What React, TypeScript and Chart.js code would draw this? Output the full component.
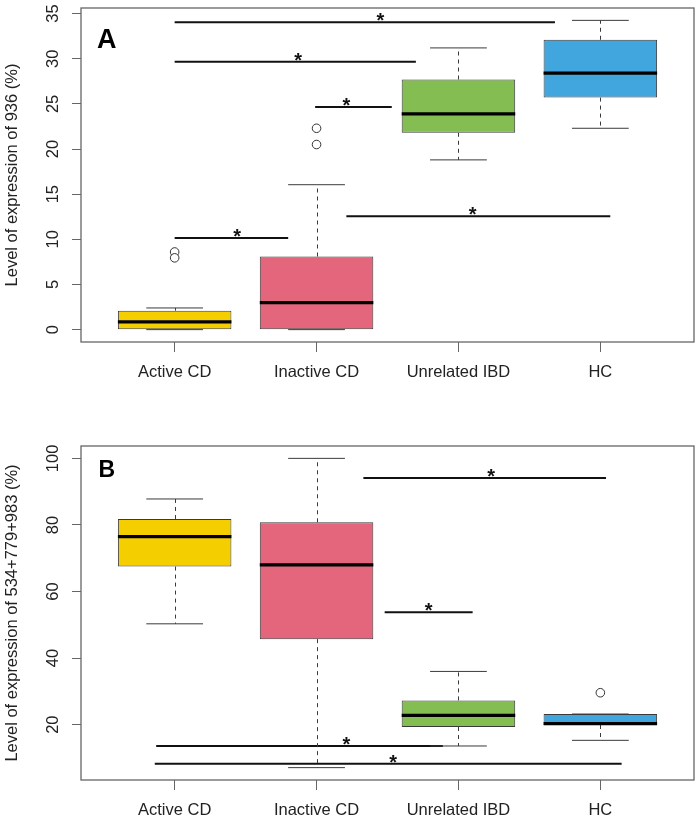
import React, { useEffect, useRef } from 'react';
import { Chart, registerables } from 'chart.js';

Chart.register(...registerables);

const FONT = "'Liberation Sans', Arial, Helvetica, sans-serif";

const categories = ['Active CD', 'Inactive CD', 'Unrelated IBD', 'HC'];
const boxColors = ['#F5CE00', '#E3667C', '#84BD51', '#42A6DE'];

// Panel A: level of expression of 936 (%)
const aLower = [0, 0, 18.8, 22.3];
const aQ1 = [0, 0, 21.8, 25.7];
const aMedian = [0.85, 3.0, 23.9, 28.4];
const aQ3 = [2.1, 8.1, 27.7, 32.1];
const aUpper = [2.4, 16.05, 31.2, 34.25];
const aOutlierGroup = [1, 1, 2, 2];
const aOutlierValue = [8.6, 7.95, 22.3, 20.5];
const aYTicks = [0, 5, 10, 15, 20, 25, 30, 35];
const aSigLevel = [34.03, 29.68, 24.66, 10.15, 12.55];
const aSigFrom = [1.0, 1.0, 1.99, 1.0, 2.21];
const aSigTo = [3.68, 2.7, 2.53, 1.8, 4.07];
const aStarAt = [2.45, 1.87, 2.21, 1.44, 3.1];
const aTitle = 'Level of expression of 936 (%)';

// Panel B: level of expression of 534+779+983 (%)
const bLower = [50.3, 7.1, 13.6, 15.3];
const bQ1 = [67.5, 45.7, 19.3, 19.9];
const bMedian = [76.5, 68.0, 22.8, 20.3];
const bQ3 = [81.8, 80.8, 27.3, 23.2];
const bUpper = [87.8, 100, 36.0, 23.2];
const bOutlierGroup = [4];
const bOutlierValue = [29.6];
const bYTicks = [20, 40, 60, 80, 100];
const bSigLevel = [94.1, 53.8, 13.6, 8.3];
const bSigFrom = [2.33, 2.48, 0.87, 0.86];
const bSigTo = [4.04, 3.1, 2.89, 4.15];
const bStarAt = [3.23, 2.79, 2.21, 2.54];
const bTitle = 'Level of expression of 534+779+983 (%)';

type Panel = {
  lower: number[]; q1: number[]; med: number[]; q3: number[]; upper: number[];
  outGroup: number[]; outVal: number[]; yTicks: number[];
  sigLevel: number[]; sigFrom: number[]; sigTo: number[]; starAt: number[];
  title: string; letter: string; letterSize: number; letterDx: number; letterDy: number;
  padTop: number; xHeight: number; height: number; top: number;
};

const panelA: Panel = {
  lower: aLower, q1: aQ1, med: aMedian, q3: aQ3, upper: aUpper,
  outGroup: aOutlierGroup, outVal: aOutlierValue, yTicks: aYTicks,
  sigLevel: aSigLevel, sigFrom: aSigFrom, sigTo: aSigTo, starAt: aStarAt,
  title: aTitle, letter: 'A', letterSize: 27, letterDx: 16, letterDy: 39.7,
  padTop: 8, xHeight: 68, height: 410, top: 0,
};

const panelB: Panel = {
  lower: bLower, q1: bQ1, med: bMedian, q3: bQ3, upper: bUpper,
  outGroup: bOutlierGroup, outVal: bOutlierValue, yTicks: bYTicks,
  sigLevel: bSigLevel, sigFrom: bSigFrom, sigTo: bSigTo, starAt: bStarAt,
  title: bTitle, letter: 'B', letterSize: 23, letterDx: 17.5, letterDy: 30.7,
  padTop: 36, xHeight: 39, height: 409, top: 410,
};

function makeConfig(p: Panel): any {
  const n = categories.length;
  const all = [...p.lower, ...p.upper, ...p.outVal];
  const lo = Math.min(...all);
  const hi = Math.max(...all);
  const ext = (hi - lo) * 0.04;

  const boxPlugin = {
    id: 'rbox' + p.letter,
    afterDatasetsDraw(chart: any) {
      const ctx = chart.ctx;
      const xs = chart.scales.x;
      const ys = chart.scales.y;
      const unit = xs.getPixelForValue(2) - xs.getPixelForValue(1);
      const capHalf = unit * 0.2;
      const boxHalf = unit * 0.4;
      ctx.save();
      for (let i = 0; i < n; i++) {
        const cx = xs.getPixelForValue(i + 1);
        const yq1 = ys.getPixelForValue(p.q1[i]);
        const yq3 = ys.getPixelForValue(p.q3[i]);
        const ylo = ys.getPixelForValue(p.lower[i]);
        const yhi = ys.getPixelForValue(p.upper[i]);
        const ymed = ys.getPixelForValue(p.med[i]);
        ctx.strokeStyle = '#3a3a3a';
        ctx.lineWidth = 1;
        ctx.setLineDash([4, 4]);
        ctx.beginPath();
        ctx.moveTo(Math.round(cx) + 0.5, yq3);
        ctx.lineTo(Math.round(cx) + 0.5, yhi);
        ctx.moveTo(Math.round(cx) + 0.5, yq1);
        ctx.lineTo(Math.round(cx) + 0.5, ylo);
        ctx.stroke();
        ctx.setLineDash([]);
        ctx.beginPath();
        ctx.moveTo(cx - capHalf, yhi);
        ctx.lineTo(cx + capHalf, yhi);
        ctx.moveTo(cx - capHalf, ylo);
        ctx.lineTo(cx + capHalf, ylo);
        ctx.stroke();
        ctx.strokeStyle = '#000';
        ctx.lineWidth = 3.3;
        ctx.beginPath();
        ctx.moveTo(cx - boxHalf, ymed);
        ctx.lineTo(cx + boxHalf, ymed);
        ctx.stroke();
      }
      ctx.fillStyle = '#111';
      ctx.font = `bold 20px ${FONT}`;
      ctx.textAlign = 'center';
      ctx.textBaseline = 'alphabetic';
      for (let k = 0; k < p.sigLevel.length; k++) {
        ctx.fillText('*', xs.getPixelForValue(p.starAt[k]), ys.getPixelForValue(p.sigLevel[k]) + 5);
      }
      ctx.restore();
    },
    afterDraw(chart: any) {
      const ctx = chart.ctx;
      const ca = chart.chartArea;
      const ys = chart.scales.y;
      ctx.save();
      ctx.strokeStyle = '#666';
      ctx.lineWidth = 1.3;
      ctx.strokeRect(ca.left, ca.top, ca.right - ca.left, ca.bottom - ca.top);
      ctx.fillStyle = '#222';
      ctx.font = `16.5px ${FONT}`;
      ctx.textAlign = 'center';
      ctx.textBaseline = 'alphabetic';
      for (const t of ys.ticks) {
        const py = ys.getPixelForValue(t.value);
        ctx.save();
        ctx.translate(ca.left - 23.5, py);
        ctx.rotate(-Math.PI / 2);
        ctx.fillText(String(t.value), 0, 0);
        ctx.restore();
      }
      ctx.fillStyle = '#000';
      ctx.font = `bold ${p.letterSize}px ${FONT}`;
      ctx.textAlign = 'left';
      ctx.fillText(p.letter, ca.left + p.letterDx, ca.top + p.letterDy);
      ctx.restore();
    },
  };

  const datasets: any[] = [
    {
      type: 'bar',
      data: categories.map((_, i) => ({ x: i + 1, y: [p.q1[i], p.q3[i]] })),
      backgroundColor: boxColors,
      borderColor: '#3a3a3a',
      borderWidth: 1,
      borderSkipped: false,
      barPercentage: 0.8,
      categoryPercentage: 1,
      order: 3,
    },
    ...p.sigLevel.map((lvl, k) => ({
      type: 'line',
      data: [
        { x: p.sigFrom[k], y: lvl },
        { x: p.sigTo[k], y: lvl },
      ],
      borderColor: '#111',
      borderWidth: 2,
      pointRadius: 0,
      fill: false,
      order: 2,
    })),
    {
      type: 'scatter',
      data: p.outGroup.map((g, k) => ({ x: g, y: p.outVal[k] })),
      pointRadius: 4.3,
      pointBorderColor: '#333',
      pointBackgroundColor: '#fff',
      pointBorderWidth: 1,
      borderColor: '#333',
      backgroundColor: '#fff',
      order: 1,
    },
  ];

  return {
    type: 'bar',
    data: { datasets },
    plugins: [boxPlugin],
    options: {
      responsive: false,
      animation: false,
      events: [],
      layout: { padding: { left: 0, right: 6, top: p.padTop, bottom: 0 } },
      plugins: { legend: { display: false }, tooltip: { enabled: false } },
      scales: {
        x: {
          type: 'linear',
          min: 0.5 - 0.04 * n,
          max: n + 0.5 + 0.04 * n,
          offset: false,
          afterBuildTicks: (s: any) => {
            s.ticks = categories.map((_, i) => ({ value: i + 1 }));
          },
          afterFit: (s: any) => {
            s.height = p.xHeight;
          },
          ticks: {
            callback: (_v: any, i: number) => categories[i],
            font: { family: FONT, size: 16.5 },
            color: '#222',
            padding: 11,
            maxRotation: 0,
            minRotation: 0,
            autoSkip: false,
          },
          grid: { offset: false, drawOnChartArea: false, drawTicks: true, tickLength: 10, color: '#666', lineWidth: 1 },
          border: { display: false },
        },
        y: {
          type: 'linear',
          min: lo - ext,
          max: hi + ext,
          afterBuildTicks: (s: any) => {
            s.ticks = p.yTicks.map((v) => ({ value: v }));
          },
          afterFit: (s: any) => {
            s.width = 81;
          },
          ticks: { display: false },
          grid: { offset: false, drawOnChartArea: false, drawTicks: true, tickLength: 9, color: '#666', lineWidth: 1 },
          border: { display: false },
          title: {
            display: true,
            text: p.title,
            font: { family: FONT, size: 16.5 },
            color: '#222',
            padding: { top: 3, bottom: 0 },
          },
        },
      },
    },
  };
}

function PanelChart({ panel }: { panel: Panel }) {
  const ref = useRef<HTMLCanvasElement | null>(null);
  useEffect(() => {
    if (!ref.current) return;
    const chart = new Chart(ref.current, makeConfig(panel));
    return () => chart.destroy();
  }, [panel]);
  return (
    <canvas
      ref={ref}
      width={700}
      height={panel.height}
      style={{ position: 'absolute', left: 0, top: panel.top, width: 700, height: panel.height, display: 'block' }}
    />
  );
}

export default function App() {
  return (
    <div style={{ position: 'absolute', left: 0, top: 0, width: 700, height: 819, background: '#fff', overflow: 'hidden' }}>
      <PanelChart panel={panelA} />
      <PanelChart panel={panelB} />
    </div>
  );
}
